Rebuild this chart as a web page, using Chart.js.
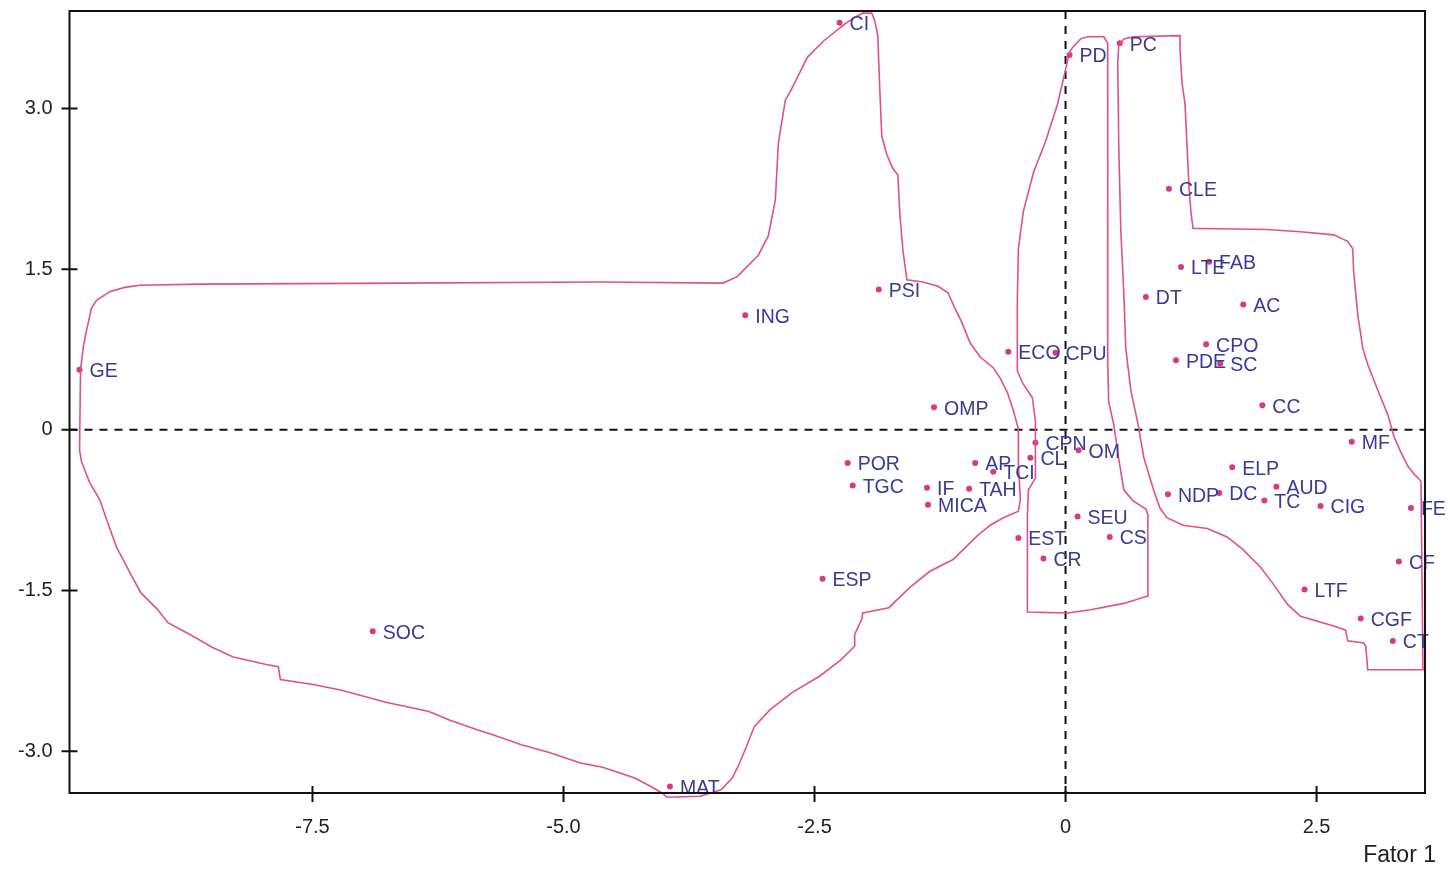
<!DOCTYPE html>
<html>
<head>
<meta charset="utf-8">
<script src="https://cdn.jsdelivr.net/npm/chart.js@4.4.0/dist/chart.umd.min.js"></script>
<style>
  html, body { margin: 0; padding: 0; background: #fff; }
  canvas { display: block; }
</style>
</head>
<body>
<canvas id="myChart" width="1450" height="869"></canvas>
<script>
// variable labels and their scores on the two factors
const names = ['CI','PD','PC','CLE','LTE','FAB','DT','AC','CPO','PDE','SC','CC','MF','ELP','NDP','DC','AUD','TC','CIG','FE','CF','LTF','CGF','CT',
  'GE','ING','PSI','ECO','CPU','OMP','POR','TGC','AP','TCI','IF','TAH','MICA','CPN','CL','OM','SEU','CS','EST','CR','ESP','SOC','MAT'];
const fator1 = [-2.25,0.04,0.54,1.03,1.15,1.43,0.80,1.77,1.40,1.10,1.54,1.96,2.85,1.66,1.02,1.53,2.10,1.98,2.54,3.44,3.32,2.38,2.94,3.26,
  -9.82,-3.19,-1.86,-0.57,-0.10,-1.31,-2.17,-2.12,-0.90,-0.72,-1.38,-0.96,-1.37,-0.30,-0.35,0.13,0.12,0.44,-0.47,-0.22,-2.42,-6.90,-3.94];
const fator2 = [3.80,3.50,3.61,2.25,1.52,1.57,1.24,1.17,0.80,0.65,0.62,0.23,-0.11,-0.35,-0.60,-0.59,-0.53,-0.66,-0.71,-0.73,-1.23,-1.49,-1.76,-1.97,
  0.56,1.07,1.31,0.73,0.72,0.21,-0.31,-0.52,-0.31,-0.39,-0.54,-0.55,-0.70,-0.12,-0.26,-0.19,-0.81,-1.00,-1.01,-1.20,-1.39,-1.88,-3.33];

// outlines of the groups (fator1, fator2)
const outlineLeft = [[-9.81,0.56],[-9.78,0.79],[-9.75,0.93],[-9.70,1.14],[-9.65,1.21],[-9.52,1.29],[-9.37,1.33],[-9.22,1.35],[-8.62,1.36],
  [-6.63,1.37],[-4.64,1.38],[-3.41,1.37],[-3.27,1.43],[-3.06,1.63],[-2.96,1.81],[-2.89,2.15],[-2.86,2.68],[-2.79,3.08],[-2.74,3.16],
  [-2.57,3.48],[-2.41,3.63],[-2.21,3.78],[-2.12,3.84],[-2.02,3.89],[-1.93,3.89],[-1.90,3.82],[-1.87,3.68],[-1.85,3.18],[-1.83,2.74],
  [-1.78,2.57],[-1.72,2.44],[-1.67,2.38],[-1.65,2.01],[-1.62,1.68],[-1.58,1.40],[-1.42,1.38],[-1.27,1.34],[-1.17,1.28],[-1.11,1.15],
  [-1.04,1.02],[-0.95,0.81],[-0.85,0.68],[-0.72,0.58],[-0.65,0.48],[-0.58,0.35],[-0.52,0.18],[-0.47,0.01],[-0.47,-0.32],[-0.45,-0.65],
  [-0.47,-0.76],[-0.62,-0.82],[-0.75,-0.89],[-0.88,-0.99],[-1.12,-1.21],[-1.35,-1.32],[-1.55,-1.47],[-1.76,-1.66],[-2.02,-1.71],
  [-2.03,-1.77],[-2.10,-1.91],[-2.10,-2.02],[-2.24,-2.15],[-2.45,-2.30],[-2.72,-2.45],[-2.94,-2.61],[-3.10,-2.77],[-3.18,-2.96],
  [-3.26,-3.14],[-3.32,-3.25],[-3.43,-3.36],[-3.64,-3.42],[-3.97,-3.43],[-4.02,-3.39],[-4.13,-3.33],[-4.29,-3.25],[-4.61,-3.15],
  [-4.83,-3.11],[-5.15,-3.01],[-5.42,-2.94],[-5.69,-2.85],[-5.86,-2.80],[-6.13,-2.71],[-6.34,-2.63],[-6.78,-2.54],[-7.21,-2.43],
  [-7.48,-2.38],[-7.82,-2.33],[-7.84,-2.21],[-7.96,-2.19],[-8.29,-2.12],[-8.50,-2.03],[-8.72,-1.91],[-8.94,-1.80],[-9.04,-1.68],
  [-9.21,-1.52],[-9.32,-1.33],[-9.37,-1.24],[-9.45,-1.10],[-9.53,-0.89],[-9.62,-0.65],[-9.72,-0.49],[-9.80,-0.30],[-9.82,-0.19],[-9.81,0.56]];
const outlineCenter = [[0.04,3.53],[0.00,3.36],[-0.08,3.04],[-0.20,2.69],[-0.32,2.40],[-0.42,2.04],[-0.47,1.69],[-0.48,1.21],[-0.48,0.55],
  [-0.43,0.44],[-0.33,0.30],[-0.30,0.08],[-0.30,-0.45],[-0.37,-0.56],[-0.38,-0.81],[-0.38,-1.70],[0.02,-1.71],[0.25,-1.68],[0.58,-1.62],
  [0.82,-1.55],[0.82,-0.79],[0.80,-0.74],[0.67,-0.66],[0.58,-0.56],[0.53,-0.27],[0.48,0.05],[0.43,0.26],[0.42,0.62],[0.42,3.61],
  [0.38,3.67],[0.22,3.67],[0.15,3.65],[0.07,3.57],[0.04,3.53]];
const outlineRight = [[0.55,3.61],[0.58,3.65],[0.68,3.67],[1.14,3.68],[1.14,3.55],[1.16,3.24],[1.19,3.04],[1.21,2.65],[1.23,2.26],
  [1.25,2.02],[1.27,1.88],[1.34,1.88],[2.01,1.87],[2.34,1.85],[2.67,1.82],[2.81,1.76],[2.86,1.69],[2.87,1.47],[2.91,1.08],[2.96,0.76],
  [3.01,0.61],[3.11,0.37],[3.21,0.14],[3.27,-0.06],[3.34,-0.21],[3.41,-0.34],[3.47,-0.41],[3.54,-0.48],[3.56,-2.24],[3.01,-2.24],
  [2.99,-2.02],[2.97,-1.99],[2.81,-1.97],[2.79,-1.87],[2.67,-1.83],[2.34,-1.74],[2.21,-1.63],[2.07,-1.44],[1.94,-1.28],[1.77,-1.12],
  [1.61,-1.00],[1.41,-0.92],[1.17,-0.89],[1.01,-0.82],[0.94,-0.73],[0.88,-0.57],[0.78,-0.26],[0.72,0.06],[0.65,0.37],[0.60,0.76],
  [0.58,1.28],[0.55,1.87],[0.53,2.65],[0.52,3.43],[0.53,3.59],[0.55,3.61]];

const xTicks = [-7.5, -5.0, -2.5, 0, 2.5];
const yTicks = [-3.0, -1.5, 0, 1.5, 3.0];

const lineColor = '#e0508f';
const pointColor = '#d83a80';
const labelColor = '#3a3a98';
const fontFamily = '"Liberation Sans", Arial, sans-serif';

let toXY = function(arr) {
  return arr.map(p => ({x: p[0], y: p[1]}));
};

let outlineDataset = function(arr) {
  return {
    data: toXY(arr),
    showLine: true,
    borderColor: lineColor,
    borderWidth: 1.6,
    pointRadius: 0,
    fill: false,
    tension: 0,
    clip: false,
  };
};

// no automatic label padding, the frame must sit at fixed edges
let noPadding = function(s) {
  s.paddingTop = 0;
  s.paddingBottom = 0;
  s.paddingLeft = 0;
  s.paddingRight = 0;
};

// frame, zero lines, tick marks, point names and axis name
const decoPlugin = {
  id: 'deco',
  beforeDatasetsDraw(chart) {
    const {ctx, chartArea: a, scales: {x, y}} = chart;
    ctx.save();
    ctx.strokeStyle = '#111';
    ctx.lineWidth = 2;
    ctx.setLineDash([8, 7]);
    ctx.beginPath();
    ctx.moveTo(x.getPixelForValue(0), a.top);
    ctx.lineTo(x.getPixelForValue(0), a.bottom);
    ctx.moveTo(a.left, y.getPixelForValue(0));
    ctx.lineTo(a.right, y.getPixelForValue(0));
    ctx.stroke();
    ctx.restore();
  },
  afterDatasetsDraw(chart) {
    const {ctx, scales: {x, y}} = chart;
    ctx.save();
    ctx.fillStyle = labelColor;
    ctx.font = '19.5px ' + fontFamily;
    ctx.textAlign = 'left';
    ctx.textBaseline = 'middle';
    for (let i = 0; i < names.length; i++) {
      ctx.fillText(names[i], x.getPixelForValue(fator1[i]) + 10, y.getPixelForValue(fator2[i]) + 2);
    }
    ctx.restore();
  },
  afterDraw(chart) {
    const {ctx, chartArea: a, scales: {x, y}} = chart;
    ctx.save();
    ctx.strokeStyle = '#111';
    ctx.lineWidth = 2;
    ctx.strokeRect(a.left, a.top, a.right - a.left, a.bottom - a.top);
    ctx.beginPath();
    xTicks.forEach(v => {
      const px = x.getPixelForValue(v);
      ctx.moveTo(px, a.bottom - 7);
      ctx.lineTo(px, a.bottom + 9);
    });
    yTicks.forEach(v => {
      const py = y.getPixelForValue(v);
      ctx.moveTo(a.left - 8, py);
      ctx.lineTo(a.left + 8, py);
    });
    ctx.stroke();
    ctx.fillStyle = '#222';
    ctx.font = '23px ' + fontFamily;
    ctx.textAlign = 'right';
    ctx.textBaseline = 'middle';
    ctx.fillText('Fator 1', 1436, 856);
    ctx.restore();
  }
};

function setupChart() {
  Chart.defaults.font.family = fontFamily;
  Chart.defaults.font.size = 20;
  Chart.defaults.color = '#222';

  const ctx = document.getElementById('myChart').getContext('2d');
  const points = names.map((n, i) => ({x: fator1[i], y: fator2[i]}));

  new Chart(ctx, {
    type: 'scatter',
    data: {
      datasets: [
        outlineDataset(outlineLeft),
        outlineDataset(outlineCenter),
        outlineDataset(outlineRight),
        {
          data: points,
          pointRadius: 3,
          pointBackgroundColor: pointColor,
          pointBorderWidth: 0,
          showLine: false,
        },
      ]
    },
    options: {
      responsive: false,
      animation: false,
      layout: {padding: {top: 11, right: 25, left: 0, bottom: 0}},
      plugins: {legend: {display: false}, tooltip: {enabled: false}},
      scales: {
        x: {
          type: 'linear',
          min: -9.92,
          max: 3.58,
          grid: {display: false, drawTicks: false},
          border: {display: false},
          afterBuildTicks: (s) => { s.ticks = xTicks.map(v => ({value: v})); },
          afterFit: (s) => { s.height = 76; noPadding(s); },
          ticks: {
            padding: 22,
            autoSkip: false,
            maxRotation: 0,
            callback: (v) => v === 0 ? '0' : v.toFixed(1),
          },
        },
        y: {
          type: 'linear',
          min: -3.39,
          max: 3.91,
          grid: {display: false, drawTicks: false},
          border: {display: false},
          afterBuildTicks: (s) => { s.ticks = yTicks.map(v => ({value: v})); },
          afterFit: (s) => { s.width = 69.5; noPadding(s); },
          ticks: {
            padding: 17,
            autoSkip: false,
            callback: (v) => v === 0 ? '0' : v.toFixed(1),
          },
        },
      },
    },
    plugins: [decoPlugin],
  });
}

setupChart();
</script>
</body>
</html>
